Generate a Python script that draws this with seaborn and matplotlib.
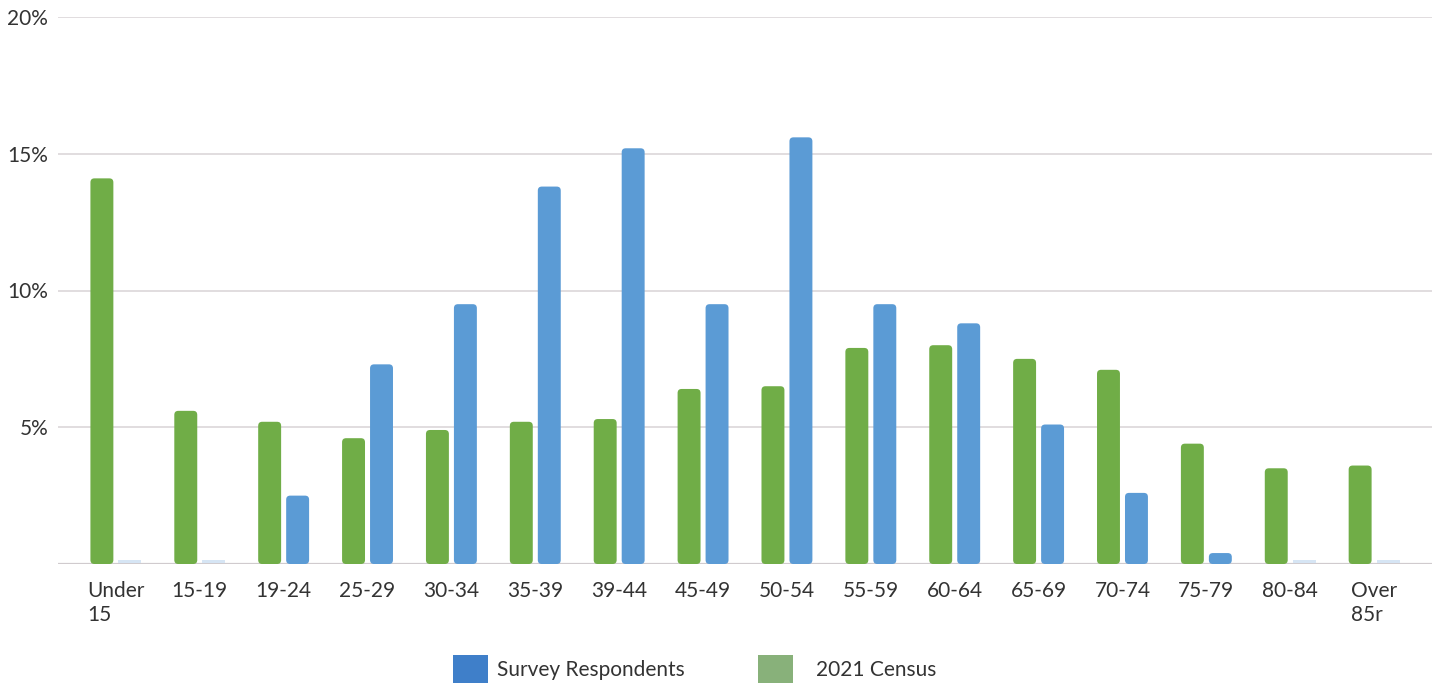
import matplotlib
matplotlib.use("Agg")
import matplotlib.pyplot as plt
from matplotlib.patches import Patch, FancyBboxPatch
import seaborn as sns
import pandas as pd

# Age groups and share of people in each (percent)
age_groups = ["Under\n15", "15-19", "19-24", "25-29", "30-34", "35-39", "39-44",
              "45-49", "50-54", "55-59", "60-64", "65-69", "70-74", "75-79",
              "80-84", "Over\n85r"]
census_2021 = [14.1, 5.6, 5.2, 4.6, 4.9, 5.2, 5.3, 6.4, 6.5, 7.9, 8.0, 7.5,
               7.1, 4.4, 3.5, 3.6]
survey = [0.0, 0.0, 2.5, 7.3, 9.5, 13.8, 15.2, 9.5, 15.6, 9.5, 8.8, 5.1,
          2.6, 0.4, 0.0, 0.0]
y_ticks = [5, 10, 15, 20]

series_names = ["2021 Census", "Survey Respondents"]
bar_colors = {"2021 Census": "#70ad47", "Survey Respondents": "#5b9bd5"}
legend_colors = {"Survey Respondents": "#3f7fc9", "2021 Census": "#88b17a"}

df = pd.DataFrame({
    "age": age_groups * 2,
    "series": ["2021 Census"] * len(age_groups) + ["Survey Respondents"] * len(age_groups),
    "value": census_2021 + survey,
})

sns.set_theme(style="white")
plt.rcParams["font.family"] = ["Lato", "DejaVu Sans"]
text_color = "#333333"

fig = plt.figure(figsize=(14.4, 6.87), dpi=100)
ax = fig.add_axes([58 / 1440, 1 - 564 / 687, (1432 - 58) / 1440, (564 - 17) / 687])

sns.barplot(data=df, x="age", y="value", hue="series", hue_order=series_names,
            palette=bar_colors, width=0.667, gap=0.18, ax=ax, legend=False,
            saturation=1, linewidth=0)

# Give the bars softly rounded tops; empty categories show as a faint stub
px_per_x = (1432 - 58) / (len(age_groups) - 1 + 2 * 0.69)
px_per_y = (564 - 17) / 20
r_x = 4 / px_per_x
aspect = (4 / px_per_y) / r_x
stub_h = 2.5 / px_per_y
for p in list(ax.patches):
    h = p.get_height()
    x0, w = p.get_x(), p.get_width()
    p.set_visible(False)
    if h <= 0:
        ax.add_patch(FancyBboxPatch((x0, 0.05), w, stub_h,
                                    boxstyle="square,pad=0",
                                    facecolor="#d6e5f4", edgecolor="none", zorder=4))
        continue
    ax.add_patch(FancyBboxPatch((x0, 0), w, h,
                                boxstyle=f"round,pad=0,rounding_size={r_x}",
                                mutation_aspect=aspect,
                                facecolor=p.get_facecolor(), edgecolor="none", zorder=3))

ax.set_xlim(-0.69, len(age_groups) - 1 + 0.69)
ax.set_ylim(0, 20)
ax.set_yticks(y_ticks)
ax.set_yticklabels([f"{t}%" for t in y_ticks], fontsize=15, color=text_color)
ax.tick_params(axis="y", length=0, pad=7)
ax.tick_params(axis="x", length=0, pad=12)
ax.set_xticks(range(len(age_groups)))
ax.set_xticklabels(age_groups, fontsize=15, color=text_color,
                   multialignment="left", linespacing=1.3, va="top")
for lbl in ax.get_xticklabels():
    lbl.set_ha("center")

ax.yaxis.grid(True, color="#d8d3d6", linewidth=1.1)
ax.set_axisbelow(True)
ax.axhline(0, color="#d0cbce", linewidth=1.6, zorder=2)
for s in ax.spines.values():
    s.set_visible(False)
ax.set_xlabel("")
ax.set_ylabel("")

# Legend: one entry per series, placed side by side under the axis
legend_y = 1 - 669 / 687
entries = [("Survey Respondents", 436 / 1440, 0.42),
           ("2021 Census", 741 / 1440, 1.12)]
for name, x_left, textpad in entries:
    leg = fig.legend(handles=[Patch(facecolor=legend_colors[name], edgecolor="none", label=name)],
                     loc="center left", bbox_to_anchor=(x_left, legend_y),
                     frameon=False, fontsize=15, handlelength=1.7, handleheight=1.7,
                     handletextpad=textpad, borderpad=0.3)
    for t in leg.get_texts():
        t.set_color(text_color)

fig.savefig("out.png", dpi=100)
